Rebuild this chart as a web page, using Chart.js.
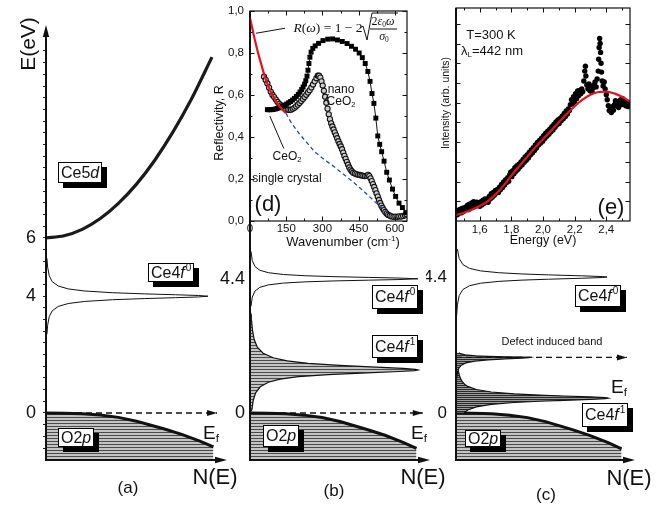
<!DOCTYPE html>
<html>
<head>
<meta charset="utf-8">
<title>CeO2 band scheme</title>
<script src="https://cdn.jsdelivr.net/npm/chart.js@4.4.1/dist/chart.umd.min.js"></script>
<style>
  html, body { margin: 0; padding: 0; background: #fff; }
  #fig { position: relative; width: 669px; height: 507px; overflow: hidden;
         font-family: "Liberation Sans", Arial, sans-serif; color: #111; }
  #fig canvas { position: absolute; left: 0; top: 0; }
  .t { position: absolute; white-space: nowrap; line-height: 1; transform: translate(-50%, -50%); }
  .rot { transform: translate(-50%, -50%) rotate(-90deg); }
  .t sub { font-size: 0.62em; vertical-align: -0.3em; line-height: 0; }
  .t sup { font-size: 0.62em; vertical-align: 0.55em; line-height: 0; }
  .box { position: absolute; border: 1px solid #000; background: #fff; box-shadow: 5px 5px 0 #000;
         font-size: 16px; padding: 0 2px; white-space: nowrap; }
  .box sup { font-size: 10px; line-height: 0; vertical-align: 7px; margin-left: 1px; }
  .serif { font-family: "Liberation Serif", "Times New Roman", serif; }
  svg.over { position: absolute; left: 0; top: 0; }
</style>
</head>
<body>
<div id="fig">
  <canvas id="panelA" width="669" height="507"></canvas>
  <canvas id="panelB" width="669" height="507"></canvas>
  <canvas id="panelC" width="669" height="507"></canvas>
  <canvas id="reflChart" width="669" height="507"></canvas>
  <canvas id="plChart" width="669" height="507"></canvas>

  <svg class="over" width="669" height="507">
    <polyline points="360,28 363,26 367,40 372,13 398,13" fill="none" stroke="#111" stroke-width="1"/>
    <line x1="370" y1="29" x2="397" y2="29" stroke="#111" stroke-width="1"/>
  </svg>

  <!-- (a) -->
  <div class="t rot" style="left:27px;top:44px;font-size:21px">E(eV)</div>
  <div class="box" style="left:58px;top:162px;line-height:19px">Ce5<i>d</i></div>
  <div class="box" style="left:148px;top:263px;line-height:17px">Ce4<i>f</i><sup>0</sup></div>
  <div class="box" style="left:58px;top:428px;line-height:17px">O2<i>p</i></div>
  <div class="t" style="left:211px;top:432px;font-size:19px">E<sub>f</sub></div>
  <div class="t" style="left:215px;top:477px;font-size:22px">N(E)</div>
  <div class="t" style="left:128px;top:487px;font-size:17px">(a)</div>

  <!-- (b) -->
  <div class="box" style="left:372px;top:285px;line-height:22px">Ce4<i>f</i><sup>0</sup></div>
  <div class="box" style="left:372px;top:335px;line-height:21px">Ce4<i>f</i><sup>1</sup></div>
  <div class="box" style="left:263px;top:425px;line-height:20px">O2<i>p</i></div>
  <div class="t" style="left:419px;top:432px;font-size:19px">E<sub>f</sub></div>
  <div class="t" style="left:423px;top:477px;font-size:22px">N(E)</div>
  <div class="t" style="left:334px;top:490px;font-size:17px">(b)</div>

  <!-- (c) -->
  <div class="box" style="left:575px;top:285px;line-height:20px">Ce4<i>f</i><sup>0</sup></div>
  <div class="box" style="left:582px;top:403px;line-height:22px">Ce4<i>f</i><sup>1</sup></div>
  <div class="box" style="left:465px;top:430px;line-height:15px">O2<i>p</i></div>
  <div class="t" style="left:552px;top:341px;font-size:11px">Defect induced band</div>
  <div class="t" style="left:619px;top:386px;font-size:19px">E<sub>f</sub></div>
  <div class="t" style="left:629px;top:478px;font-size:22px">N(E)</div>
  <div class="t" style="left:546px;top:494px;font-size:17px">(c)</div>

  <!-- (d) -->
  <div class="t rot" style="left:219px;top:123px;font-size:12.5px">Reflectivity, R</div>
  <div class="t" style="left:343px;top:241px;font-size:13px">Wavenumber (cm<sup>-1</sup>)</div>
  <div class="t serif" style="left:328px;top:28px;font-size:13.5px"><i>R</i>(<i>ω</i>) = 1 − 2</div>
  <div class="t serif" style="left:383px;top:21px;font-size:12px">2<i>ε</i><sub>0</sub><i>ω</i></div>
  <div class="t serif" style="left:384px;top:36px;font-size:12px"><i>σ</i><sub>0</sub></div>
  <div class="t" style="left:341px;top:89px;font-size:12px">nano</div>
  <div class="t" style="left:341px;top:101px;font-size:12px">CeO<sub>2</sub></div>
  <div class="t" style="left:287px;top:156px;font-size:12px">CeO<sub>2</sub></div>
  <div class="t" style="left:287px;top:178px;font-size:12px">single crystal</div>
  <div class="t" style="left:268px;top:204px;font-size:22px">(d)</div>

  <!-- (e) -->
  <div class="t" style="left:491px;top:34px;font-size:13px">T=300 K</div>
  <div class="t" style="left:492px;top:50px;font-size:13px">λ<sub>L</sub>=442 nm</div>
  <div class="t" style="left:611px;top:207px;font-size:22px">(e)</div>
  <div class="t rot" style="left:445px;top:103px;font-size:10.5px">Intensity (arb. units)</div>
  <div class="t" style="left:543px;top:240px;font-size:12.5px">Energy (eV)</div>
</div>

<script>
// ---------- density of states sketches (N normalised to the arrow length, E in eV) ----------
const o2pN = [0, 0.1, 0.2, 0.3, 0.4, 0.5, 0.575, 0.65, 0.75, 0.85, 0.925];
const o2pE = [0, -0.005, -0.025, -0.07, -0.15, -0.28, -0.41, -0.54, -0.73, -0.96, -1.16];

const ce5dN = [0, 0.1, 0.2, 0.3, 0.4, 0.5, 0.6, 0.7, 0.8, 0.917];
const ce5dE = [6, 6.07, 6.29, 6.66, 7.18, 7.84, 8.65, 9.61, 10.71, 12.19];

// panel (a): empty 4f level at 4 eV
const f0aE = [2.7, 3.0, 3.3, 3.5, 3.65, 3.75, 3.82, 3.88, 3.92, 3.95, 3.975, 4.0,
              4.025, 4.05, 4.08, 4.12, 4.18, 4.25, 4.35, 4.5, 4.7, 5.0, 5.3];
const f0aN = [0.0053, 0.0089, 0.0179, 0.0344, 0.0675, 0.1234, 0.2111, 0.3668, 0.5457, 0.716, 0.8424, 0.895,
              0.8424, 0.716, 0.5457, 0.3668, 0.2111, 0.1234, 0.0675, 0.0344, 0.0179, 0.0089, 0.0053];

// panel (b): 4f0 at 4.4 eV, occupied 4f1 below it
const f0bE = [3.5, 3.8, 4.0, 4.12, 4.2, 4.26, 4.3, 4.33, 4.355, 4.375, 4.4,
              4.425, 4.445, 4.47, 4.5, 4.54, 4.6, 4.68, 4.8, 5.0, 5.3];
const f0bN = [0.0056, 0.0125, 0.0277, 0.0549, 0.1018, 0.1866, 0.3068, 0.4665, 0.6602, 0.8274, 0.933,
              0.8274, 0.6602, 0.4665, 0.3068, 0.1866, 0.1018, 0.0549, 0.0277, 0.0125, 0.0056];
const f1bE = [0.01, 0.11, 0.41, 0.66, 0.86, 1.01, 1.11, 1.19, 1.26, 1.31, 1.36, 1.39, 1.41,
              1.43, 1.46, 1.51, 1.56, 1.63, 1.71, 1.81, 1.96, 2.16, 2.41, 2.71, 3.01, 3.21, 3.35];
const f1bN = [0, 0.0107, 0.0179, 0.0314, 0.0568, 0.1018, 0.1668, 0.269, 0.4344, 0.6179, 0.8274, 0.9143, 0.933,
              0.9187, 0.85, 0.6709, 0.4966, 0.3227, 0.2066, 0.1287, 0.0728, 0.0406, 0.0233, 0.0139, 0.0092, 0.0073, 0];

// panel (c): 4f0, defect band at the Fermi level, 4f1 just above O2p
const f0cE = [1.9, 2.6, 3.1, 3.5, 3.8, 4.0, 4.12, 4.2, 4.26, 4.3, 4.33, 4.36, 4.385, 4.4,
              4.415, 4.44, 4.47, 4.5, 4.54, 4.6, 4.68, 4.8, 5.0, 5.3];
const f0cN = [0.001, 0.002, 0.0039, 0.008, 0.0178, 0.039, 0.0759, 0.1369, 0.239, 0.3684, 0.5169, 0.6995, 0.8201, 0.844,
              0.8201, 0.6995, 0.5169, 0.3684, 0.239, 0.1369, 0.0759, 0.039, 0.0178, 0.008];
const defectE = [1.15, 1.3, 1.45, 1.55, 1.62, 1.68, 1.72, 1.75, 1.775, 1.79, 1.8,
                 1.81, 1.82, 1.835, 1.85, 1.88, 1.92, 1.95];
const defectN = [0.0047, 0.0079, 0.0159, 0.03, 0.0543, 0.1049, 0.1791, 0.2735, 0.3663, 0.4047, 0.413,
                 0.3717, 0.286, 0.1749, 0.1093, 0.0509, 0.0243, 0.0159];
const f1cE = [0.01, 0.1, 0.2, 0.28, 0.34, 0.38, 0.41, 0.44, 0.465, 0.48,
              0.495, 0.52, 0.55, 0.58, 0.62, 0.68, 0.76, 0.86, 0.93, 1.03, 1.18, 1.38, 1.58];
const f1cN = [0.0441, 0.0657, 0.1135, 0.1972, 0.324, 0.4648, 0.6043, 0.7499, 0.8335, 0.849,
              0.8335, 0.7499, 0.6043, 0.4648, 0.324, 0.1972, 0.1135, 0.0657, 0.0479, 0.0327, 0.0205, 0.0125, 0.0084];

// energy axis ticks
const eTicksA = [-1.2, -0.8, -0.4, 0, 0.4, 0.8, 1.2, 1.6, 2, 2.4, 2.8, 3.2, 3.6, 4, 4.4, 4.8, 5.2, 5.6, 6,
                 6.4, 6.8, 7.2, 7.6, 8, 8.4, 8.8, 9.2, 9.6, 10, 10.4, 10.8, 11.2, 11.6, 12, 12.4];
const eLabelsA = [0, 4, 6];
const eTicksBC = [0, 4.4];

// ---------- (d) far-infrared reflectivity ----------
const crystalWave = [72, 80, 88, 96, 104, 112, 120, 128, 136, 144, 152, 160, 168, 176, 184, 192, 200, 207, 214, 220,
                     226, 231, 236, 240, 244, 248, 253, 260, 270, 284, 302, 322, 342, 362, 382, 402,
                     420, 437, 452, 465, 477, 488, 497, 505, 513, 521, 529, 537, 545, 555, 566, 577, 590, 603, 617, 631, 645];
const crystalRefl = [0.53, 0.53, 0.53, 0.531, 0.533, 0.536, 0.539, 0.543, 0.547, 0.552, 0.557, 0.563, 0.569, 0.576, 0.584, 0.593, 0.603, 0.614, 0.626, 0.638,
                     0.652, 0.668, 0.69, 0.718, 0.75, 0.78, 0.804, 0.822, 0.834, 0.846, 0.859, 0.866, 0.867, 0.862, 0.855, 0.845,
                     0.832, 0.818, 0.8, 0.778, 0.75, 0.712, 0.665, 0.607, 0.56, 0.49, 0.405, 0.365, 0.33, 0.285, 0.232, 0.195, 0.152, 0.117, 0.085, 0.064, 0.04];
const nanoWave = [58, 65, 72, 79, 86, 93, 100, 107, 114, 121, 128, 135, 142, 149, 156, 163, 170, 177, 184, 191,
                  198, 205, 212, 219, 226, 233, 240, 247, 254, 261, 268, 275, 281, 286, 291, 296, 301, 306, 311, 316,
                  321, 326, 331, 336, 341, 346, 351, 356, 361, 366, 371, 376, 381, 386, 391, 396, 401, 406, 411, 416,
                  421, 427, 434, 441, 448, 455, 462, 469, 476, 483, 489, 494, 499, 504, 509, 514, 519, 524, 529, 534,
                  539, 544, 549, 554, 560, 566, 572, 579, 586, 594, 602, 610, 618, 626, 634, 642, 648];
const nanoRefl = [0.687, 0.672, 0.655, 0.635, 0.615, 0.6, 0.59, 0.578, 0.567, 0.558, 0.55, 0.543, 0.537, 0.532, 0.53, 0.529, 0.53, 0.534, 0.539, 0.546,
                  0.554, 0.562, 0.571, 0.581, 0.591, 0.601, 0.612, 0.623, 0.636, 0.65, 0.665, 0.68, 0.692, 0.692, 0.683, 0.665, 0.645, 0.62, 0.592, 0.563,
                  0.535, 0.508, 0.485, 0.465, 0.45, 0.436, 0.422, 0.408, 0.394, 0.38, 0.367, 0.355, 0.342, 0.326, 0.31, 0.296, 0.282, 0.268, 0.255, 0.245,
                  0.237, 0.23, 0.226, 0.223, 0.22, 0.219, 0.217, 0.215, 0.214, 0.216, 0.22, 0.214, 0.203, 0.19, 0.176, 0.162, 0.147, 0.132, 0.116, 0.1,
                  0.086, 0.073, 0.062, 0.052, 0.043, 0.035, 0.029, 0.025, 0.022, 0.02, 0.021, 0.02, 0.022, 0.021, 0.024, 0.027, 0.032];
const drudeWave = [0, 8, 17, 27, 37, 47, 58, 70, 86, 100, 115, 130, 149];
const drudeRefl = [0.965, 0.925, 0.878, 0.83, 0.785, 0.745, 0.7, 0.66, 0.616, 0.585, 0.558, 0.536, 0.513];
const baseWave = [149, 162, 175, 205, 240, 267, 310, 350, 390, 433, 475, 517, 545, 565];
const baseRefl = [0.513, 0.485, 0.462, 0.414, 0.367, 0.33, 0.29, 0.257, 0.22, 0.18, 0.137, 0.092, 0.065, 0.045];
const waveTicks = [0, 75, 150, 225, 300, 375, 450, 525, 600];
const waveLabels = [0, 150, 300, 450, 600];
const reflTicks = [0, 0.1, 0.2, 0.3, 0.4, 0.5, 0.6, 0.7, 0.8, 0.9, 1.0];

// ---------- (e) photoluminescence ----------
const plEnergy = [1.452, 1.458, 1.465, 1.471, 1.478, 1.484, 1.491, 1.497, 1.504, 1.510,
                  1.517, 1.523, 1.530, 1.536, 1.543, 1.549, 1.556, 1.562, 1.569, 1.575,
                  1.582, 1.588, 1.595, 1.601, 1.608, 1.614, 1.621, 1.627, 1.634, 1.640,
                  1.647, 1.653, 1.660, 1.666, 1.673, 1.679, 1.686, 1.692, 1.699, 1.705,
                  1.712, 1.718, 1.725, 1.731, 1.738, 1.744, 1.751, 1.757, 1.764, 1.770,
                  1.777, 1.783, 1.790, 1.796, 1.803, 1.809, 1.816, 1.822, 1.829, 1.835,
                  1.842, 1.848, 1.855, 1.861, 1.868, 1.874, 1.881, 1.887, 1.894, 1.900,
                  1.907, 1.913, 1.920, 1.926, 1.933, 1.939, 1.946, 1.952, 1.959, 1.965,
                  1.972, 1.978, 1.985, 1.991, 1.998, 2.004, 2.011, 2.017, 2.024, 2.030,
                  2.037, 2.043, 2.050, 2.056, 2.063, 2.069, 2.076, 2.082, 2.089, 2.095,
                  2.102, 2.108, 2.115, 2.121, 2.128, 2.134, 2.141, 2.147, 2.154, 2.160,
                  2.167, 2.173, 2.180, 2.186, 2.193, 2.199, 2.206, 2.212, 2.219, 2.225,
                  2.232, 2.238, 2.245, 2.251, 2.258, 2.264, 2.268, 2.271, 2.277, 2.284,
                  2.290, 2.297, 2.303, 2.310, 2.316, 2.323, 2.329, 2.336, 2.342, 2.349,
                  2.352, 2.355, 2.358, 2.361, 2.364, 2.367, 2.370, 2.374, 2.380, 2.387,
                  2.393, 2.400, 2.406, 2.413, 2.419, 2.426, 2.432, 2.439, 2.445, 2.452,
                  2.458, 2.465, 2.471, 2.478, 2.484, 2.491, 2.497, 2.504, 2.510, 2.517,
                  2.523, 2.530, 2.536, 2.543, 2.549];
const plCounts = [0.45, 0.32, 0.55, 0.40, 0.60, 0.42, 0.65, 0.48, 0.58, 0.70,
                  0.62, 0.80, 0.58, 0.85, 0.68, 0.92, 0.72, 0.98, 0.75, 0.88,
                  0.95, 0.78, 0.92, 0.75, 0.98, 0.82, 1.05, 0.90, 1.12, 0.98,
                  1.10, 0.95, 1.25, 1.12, 1.38, 1.20, 1.45, 1.30, 1.55, 1.42,
                  1.60, 1.45, 1.72, 1.58, 1.85, 1.70, 1.98, 1.82, 2.10, 1.95,
                  2.20, 2.02, 2.35, 2.48, 2.25, 2.55, 2.40, 2.70, 2.52, 2.80,
                  2.62, 2.88, 2.75, 3.00, 2.85, 3.12, 2.98, 3.25, 3.08, 3.35,
                  3.20, 3.48, 3.35, 3.60, 3.45, 3.72, 3.58, 3.85, 3.70, 3.98,
                  3.85, 4.08, 3.95, 4.20, 4.05, 4.32, 4.18, 4.45, 4.30, 4.55,
                  4.40, 4.65, 4.52, 4.78, 4.62, 4.90, 4.75, 5.02, 4.88, 5.12,
                  4.95, 5.20, 5.08, 5.32, 5.18, 5.45, 5.30, 5.58, 5.42, 5.68,
                  5.60, 5.90, 6.15, 5.95, 6.30, 6.05, 6.45, 6.20, 6.60, 6.35,
                  6.62, 6.45, 6.70, 6.55, 7.10, 7.60, 7.85, 7.35, 6.90, 6.70,
                  6.95, 6.60, 6.85, 6.55, 6.75, 6.90, 7.05, 6.80, 7.20, 7.60,
                  8.20, 8.80, 9.25, 9.00, 8.55, 8.00, 7.55, 7.10, 6.85, 7.05,
                  6.70, 6.40, 6.15, 5.85, 5.60, 5.75, 5.50, 5.80, 5.62, 5.90,
                  6.10, 5.85, 6.05, 5.75, 5.95, 6.15, 5.90, 6.20, 5.95, 6.10,
                  5.85, 6.00, 5.80, 5.95, 5.85];
const fitEnergy = [1.45, 1.5, 1.55, 1.6, 1.65, 1.7, 1.75, 1.8, 1.85, 1.9, 1.95, 2.0,
                   2.05, 2.1, 2.15, 2.2, 2.25, 2.3, 2.35, 2.4, 2.45, 2.5, 2.55];
const fitCounts = [0.30, 0.42, 0.57, 0.76, 1.0, 1.35, 1.78, 2.30, 2.78, 3.25, 3.72, 4.15,
                   4.58, 5.0, 5.42, 5.82, 6.15, 6.40, 6.54, 6.56, 6.47, 6.30, 6.06];
const energyTicks = [1.5, 1.6, 1.7, 1.8, 1.9, 2.0, 2.1, 2.2, 2.3, 2.4, 2.5];
const energyLabels = [1.6, 1.8, 2.0, 2.2, 2.4];
const countTicks = [1, 2, 3, 4, 5, 6, 7, 8, 9, 10];

Chart.defaults.font.family = '"Liberation Sans", Arial, sans-serif';
Chart.defaults.color = '#111';

const pts = (xs, ys) => xs.map((x, i) => ({ x, y: ys[i] }));
const comma = v => v.toFixed(1).replace('.', ',');

// horizontal stripe fill used for occupied bands
function stripes(light, dark, period) {
  const c = document.createElement('canvas');
  c.width = 4; c.height = period;
  const g = c.getContext('2d');
  g.fillStyle = light; g.fillRect(0, 0, 4, period);
  g.fillStyle = dark; g.fillRect(0, 0, 4, 1);
  return g.createPattern(c, 'repeat');
}
const bandFill = stripes('#c4c4c4', '#4a4a4a', 3);
const darkFill = stripes('#2a2a2a', '#9a9a9a', 2);

function arrowHead(ctx, x, y, dx, dy, len, half) {
  const bx = x - dx * len, by = y - dy * len;
  ctx.beginPath();
  ctx.moveTo(x, y);
  ctx.lineTo(bx - dy * half, by + dx * half);
  ctx.lineTo(bx + dy * half, by - dx * half);
  ctx.closePath();
  ctx.fill();
}

// N(E) and E axes with arrow heads
const dosAxes = {
  id: 'dosAxes',
  afterDatasetsDraw(chart, args, opts) {
    const { ctx, chartArea: a } = chart;
    ctx.save();
    ctx.strokeStyle = '#111';
    ctx.fillStyle = '#111';
    ctx.lineWidth = 2;
    ctx.beginPath();
    ctx.moveTo(a.left - 1, a.bottom);
    ctx.lineTo(a.right - 10, a.bottom);
    ctx.moveTo(a.left, a.bottom);
    ctx.lineTo(a.left, a.top + (opts.topArrow ? 10 : 0));
    ctx.stroke();
    arrowHead(ctx, a.right, a.bottom, 1, 0, 12, 3.2);
    if (opts.topArrow) arrowHead(ctx, a.left, a.top, 0, -1, 12, 3.2);
    ctx.restore();
  }
};

// arrow head at the end of the dashed Fermi level lines
const lineArrows = {
  id: 'lineArrows',
  afterDatasetsDraw(chart) {
    chart.data.datasets.forEach((ds, i) => {
      if (!ds.arrowHead) return;
      const el = chart.getDatasetMeta(i).data;
      const p = el[el.length - 1];
      chart.ctx.save();
      chart.ctx.fillStyle = '#111';
      arrowHead(chart.ctx, p.x, p.y, 1, 0, 10, 3);
      chart.ctx.restore();
    });
  }
};

// closed frame with inward ticks on all four sides
const frameTicks = {
  id: 'frameTicks',
  afterDraw(chart) {
    const { ctx, chartArea: a, scales: { x, y } } = chart;
    ctx.save();
    ctx.strokeStyle = '#111';
    ctx.lineWidth = 1.2;
    ctx.strokeRect(a.left, a.top, a.width, a.height);
    ctx.lineWidth = 1;
    ctx.beginPath();
    x.ticks.forEach(t => {
      const px = Math.round(x.getPixelForValue(t.value)) + 0.5;
      const len = t.label ? 4.5 : 2.5;
      ctx.moveTo(px, a.bottom); ctx.lineTo(px, a.bottom - len);
      ctx.moveTo(px, a.top); ctx.lineTo(px, a.top + len);
    });
    y.ticks.forEach(t => {
      const py = Math.round(y.getPixelForValue(t.value)) + 0.5;
      const len = t.label ? 4.5 : 2.5;
      ctx.moveTo(a.left, py); ctx.lineTo(a.left + len, py);
      ctx.moveTo(a.right, py); ctx.lineTo(a.right - len, py);
    });
    ctx.stroke();
    ctx.restore();
  }
};

// thin pointer lines from the captions to the curves (data coordinates)
const leaders = {
  id: 'leaders',
  afterDatasetsDraw(chart, args, opts) {
    const { ctx, scales: { x, y } } = chart;
    ctx.save();
    ctx.strokeStyle = '#111';
    ctx.lineWidth = 1;
    ctx.beginPath();
    (opts.lines || []).forEach(([x1, y1, x2, y2]) => {
      ctx.moveTo(x.getPixelForValue(x1), y.getPixelForValue(y1));
      ctx.lineTo(x.getPixelForValue(x2), y.getPixelForValue(y2));
    });
    ctx.stroke();
    ctx.restore();
  }
};

function peak(es, ns, style) {
  return Object.assign({ data: pts(ns, es), indexAxis: 'y', borderColor: '#111', borderWidth: 1,
                         pointRadius: 0, tension: 0, fill: false }, style);
}
function curve(xs, ys, style) {
  return Object.assign({ data: pts(xs, ys), borderColor: '#111', borderWidth: 1,
                         pointRadius: 0, tension: 0, fill: false }, style);
}
function o2pBand() {
  return curve(o2pN, o2pE, { borderWidth: 3, fill: 'start', backgroundColor: bandFill });
}
function fermi(nEnd, e) {
  return curve([0, nEnd], [e, e], { borderWidth: 1.3, borderDash: [6, 4], arrowHead: true });
}

function dosChart(id, p) {
  return new Chart(document.getElementById(id), {
    type: 'line',
    data: { datasets: p.datasets },
    options: {
      responsive: false, animation: false, events: [],
      layout: { padding: p.padding },
      plugins: { legend: { display: false }, tooltip: { enabled: false }, dosAxes: { topArrow: p.topArrow } },
      scales: {
        x: { type: 'linear', min: 0, max: 1, display: false },
        y: {
          type: 'linear', min: p.eMin, max: p.eMax,
          afterBuildTicks: s => { s.ticks = p.eTicks.map(v => ({ value: v })); },
          afterFit: s => { s.width = p.axisWidth; s.paddingTop = 0; s.paddingBottom = 0; },
          border: { display: false },
          grid: p.minorTicks
            ? { drawOnChartArea: false, drawTicks: true, tickLength: 3, color: '#222', lineWidth: 1 }
            : { display: false, drawTicks: false },
          ticks: {
            autoSkip: false, padding: p.labelPad, color: '#111', font: { size: p.labelSize },
            callback: v => p.eLabels.includes(+v.toFixed(1)) ? String(+v.toFixed(1)) : ''
          }
        }
      }
    },
    plugins: [dosAxes, lineArrows]
  });
}

// (a) stoichiometric CeO2
dosChart('panelA', {
  padding: { left: 26, right: 442, top: 25, bottom: 47 },
  eMin: -1.61, eMax: 13.29, axisWidth: 20, labelPad: 7, labelSize: 18, topArrow: true, minorTicks: true,
  eTicks: eTicksA, eLabels: eLabelsA,
  datasets: [
    fermi(0.945, 0),
    curve(ce5dN, ce5dE, { borderWidth: 3.2, borderColor: '#1a1a1a', tension: 0.3 }),
    peak(f0aE, f0aN),
    o2pBand()
  ]
});

// (b) reduced CeO2 with an occupied 4f1 band
dosChart('panelB', {
  padding: { left: 220, right: 239, top: 11, bottom: 47 },
  eMin: -1.541, eMax: 13.18, axisWidth: 30, labelPad: 5, labelSize: 18, topArrow: false, minorTicks: false,
  eTicks: eTicksBC, eLabels: eTicksBC,
  datasets: [
    fermi(0.96, 0),
    peak(f0bE, f0bN),
    peak(f1bE, f1bN, { borderWidth: 1.2, fill: { value: 0 }, backgroundColor: bandFill }),
    o2pBand()
  ]
});

// (c) nano CeO2 with the defect induced band
dosChart('panelC', {
  padding: { left: 426, right: 34, top: 8, bottom: 47 },
  eMin: -1.521, eMax: 13.107, axisWidth: 30, labelPad: 9, labelSize: 17, topArrow: false, minorTicks: false,
  eTicks: eTicksBC, eLabels: eTicksBC,
  datasets: [
    fermi(0.955, 1.8),
    peak(f0cE, f0cN),
    peak(defectE, defectN, { borderWidth: 1.2, fill: { value: 0 }, backgroundColor: darkFill }),
    peak(f1cE, f1cN, { borderWidth: 1.2, fill: { value: 0 }, backgroundColor: darkFill }),
    o2pBand()
  ]
});

// (d) reflectivity spectra
new Chart(document.getElementById('reflChart'), {
  type: 'line',
  data: {
    datasets: [
      curve(drudeWave, drudeRefl, { borderColor: '#e3141c', borderWidth: 2.2, tension: 0.3 }),
      curve(baseWave, baseRefl, { borderColor: '#2b47a6', borderWidth: 1.3, borderDash: [4, 3] }),
      curve(crystalWave, crystalRefl, { pointStyle: 'rect', pointRadius: 3.5, pointBorderWidth: 0,
                                        pointBackgroundColor: '#000' }),
      curve(nanoWave, nanoRefl, { pointStyle: 'circle', pointRadius: 2.6, pointBorderWidth: 1.1,
                                  pointBorderColor: '#111', pointBackgroundColor: '#cfcfcf' })
    ]
  },
  options: {
    responsive: false, animation: false, events: [],
    layout: { padding: { left: 220, right: 262, top: 11, bottom: 266 } },
    plugins: {
      legend: { display: false }, tooltip: { enabled: false },
      leaders: { lines: [[25, 0.894, 145, 0.918], [308, 0.567, 325, 0.605], [82, 0.5, 140, 0.345]] }
    },
    scales: {
      x: {
        type: 'linear', min: 0, max: 650,
        afterBuildTicks: s => { s.ticks = waveTicks.map(v => ({ value: v })); },
        afterFit: s => { s.height = 20; s.paddingLeft = 0; s.paddingRight = 0; },
        border: { display: false }, grid: { display: false, drawTicks: false },
        ticks: { autoSkip: false, maxRotation: 0, padding: 1, font: { size: 11.5 },
                 callback: v => waveLabels.includes(v) ? String(v) : '' }
      },
      y: {
        type: 'linear', min: 0, max: 1,
        afterBuildTicks: s => { s.ticks = reflTicks.map(v => ({ value: v })); },
        afterFit: s => { s.width = 30; s.paddingTop = 0; s.paddingBottom = 0; },
        border: { display: false }, grid: { display: false, drawTicks: false },
        ticks: { autoSkip: false, padding: 6, font: { size: 11.5 },
                 callback: v => Math.round(v * 10) % 2 === 0 ? comma(v) : '' }
      }
    }
  },
  plugins: [frameTicks, leaders]
});

// (e) luminescence spectrum with its fit
new Chart(document.getElementById('plChart'), {
  type: 'line',
  data: {
    datasets: [
      curve(fitEnergy, fitCounts, { borderColor: '#e3141c', borderWidth: 2.2, cubicInterpolationMode: 'monotone' }),
      curve(plEnergy, plCounts, { showLine: false, pointRadius: 2.7, pointBorderWidth: 0, pointBackgroundColor: '#000' })
    ]
  },
  options: {
    responsive: false, animation: false, events: [],
    layout: { padding: { left: 456, right: 39, top: 8, bottom: 266 } },
    plugins: { legend: { display: false }, tooltip: { enabled: false } },
    scales: {
      x: {
        type: 'linear', min: 1.45, max: 2.55,
        afterBuildTicks: s => { s.ticks = energyTicks.map(v => ({ value: v })); },
        afterFit: s => { s.height = 20; s.paddingLeft = 0; s.paddingRight = 0; },
        border: { display: false }, grid: { display: false, drawTicks: false },
        ticks: { autoSkip: false, maxRotation: 0, padding: 2, font: { size: 11.5 },
                 callback: v => energyLabels.includes(+v.toFixed(1)) ? comma(v) : '' }
      },
      y: {
        type: 'linear', min: 0, max: 10.8,
        afterBuildTicks: s => { s.ticks = countTicks.map(v => ({ value: v })); },
        afterFit: s => { s.width = 0; s.paddingTop = 0; s.paddingBottom = 0; },
        border: { display: false }, grid: { display: false, drawTicks: false },
        ticks: { display: false }
      }
    }
  },
  plugins: [frameTicks]
});
</script>
</body>
</html>
